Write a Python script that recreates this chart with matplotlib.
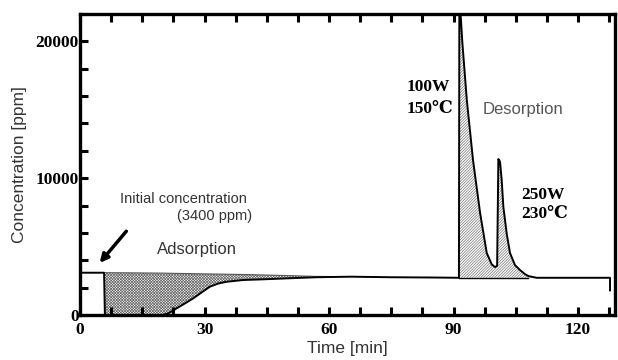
import matplotlib
matplotlib.use("Agg")
import numpy as np
import matplotlib.pyplot as plt

# baseline before the adsorption starts (feed gas only)
pre_t = [0, 5.8]
pre_c = [3090, 3090]

# adsorption: outlet concentration and feed level
ads_t = [6.0, 12, 20, 21.5, 23.3, 25.3, 27.3, 29.3, 31.3, 33.3, 35.3, 39.4, 43.4, 50, 57, 65]
ads_c = [0, 0, 0, 150, 490, 850, 1220, 1650, 2070, 2300, 2430, 2560, 2600, 2680, 2760, 2800]
ads_feed = [3090, 3080, 3060, 3050, 3040, 3030, 3020, 3010, 3000, 2990, 2980, 2960, 2930, 2880, 2820, 2800]

mid_t = [75, 85, 91.3]
mid_c = [2760, 2740, 2720]

# desorption peaks (100W/150C then 250W/230C)
des_t = [91.4, 91.6, 92.1, 93.2, 94.7, 96.4, 98.0, 99.2, 100.0, 100.5, 100.8, 101.2,
         101.6, 102.0, 102.8, 103.6, 104.8, 106.0, 107.2, 108.0, 110]
des_c = [22500, 22500, 20000, 15700, 11300, 7450, 4530, 3700, 3500, 3600, 11400, 11200,
         9860, 7900, 5970, 4530, 3650, 3290, 2990, 2850, 2720]
des_base = 2720

post_t = [120, 127.7, 127.7]
post_c = [2720, 2720, 1800]

x_ticks = [0, 30, 60, 90, 120]
y_ticks = [0, 10000, 20000]

serif_bold = dict(family=['Liberation Serif', 'DejaVu Serif', 'DejaVu Sans'], weight='bold')
sans = ['Liberation Sans', 'DejaVu Sans']

plt.rcParams['hatch.linewidth'] = 0.5

fig = plt.figure(figsize=(6.18, 3.6), dpi=100)
ax = fig.add_axes([80 / 618, 45 / 360, 535 / 618, 301 / 360])

# hatched areas
ax.fill_between(ads_t, ads_c, ads_feed, facecolor='none', edgecolor='#666666',
                hatch='x' * 12, linewidth=0)
ax.fill_between(des_t, des_c, [des_base] * len(des_t), facecolor='none',
                edgecolor='#777777', hatch='/' * 12, linewidth=0)
ax.plot(ads_t, ads_feed, color='#555555', lw=0.8)
ax.plot(des_t[:-1], [des_base] * (len(des_t) - 1), color='black', lw=1.0)

# main concentration trace
all_t = pre_t + ads_t + mid_t + des_t + post_t
all_c = pre_c + ads_c + mid_c + des_c + post_c
ax.plot(all_t, all_c, color='black', lw=1.4)

ax.set_xlim(0, 128.9)
ax.set_ylim(0, 22000)
ax.set_xticks(x_ticks)
ax.set_yticks(y_ticks)
ax.set_xticks(np.arange(0, 129, 7.5), minor=True)
ax.set_yticks(np.arange(0, 22001, 2000), minor=True)
ax.tick_params(which='both', direction='in', top=True, right=False, width=2.2, length=6)
ax.tick_params(axis='y', pad=1)
ax.tick_params(axis='x', pad=5)
for lab in ax.get_xticklabels() + ax.get_yticklabels():
    lab.set_fontproperties(matplotlib.font_manager.FontProperties(
        family='Liberation Serif', weight='bold', size=12.5))
for sp in ax.spines.values():
    sp.set_linewidth(2.4)

ax.set_xlabel('Time [min]', family=sans, fontsize=12.5, color='#333333', labelpad=2)
ax.set_ylabel('Concentration [ppm]', family=sans, fontsize=12.5, color='#333333', labelpad=6)

# annotations
ax.text(9.6, 8150, 'Initial concentration', family=sans, fontsize=10.5, color='#333333')
ax.text(23.3, 6930, '(3400 ppm)', family=sans, fontsize=10.5, color='#333333')
ax.text(18.5, 4450, 'Adsorption', family=sans, fontsize=12, color='#333333')
ax.annotate('', xy=(4.3, 3650), xytext=(11.6, 6280),
            arrowprops=dict(arrowstyle='-|>', lw=2.5, color='black', mutation_scale=12))
ax.text(97.1, 14720, 'Desorption', family=sans, fontsize=12, color='#555555')
ax.text(78.7, 16370, '100W', fontsize=12.5, **serif_bold)
ax.text(78.7, 14750, '150\u2103', fontsize=12.5, **serif_bold)
ax.text(106.4, 8470, '250W', fontsize=12.5, **serif_bold)
ax.text(106.4, 7080, '230\u2103', fontsize=12.5, **serif_bold)

fig.savefig('out.png', dpi=100)
